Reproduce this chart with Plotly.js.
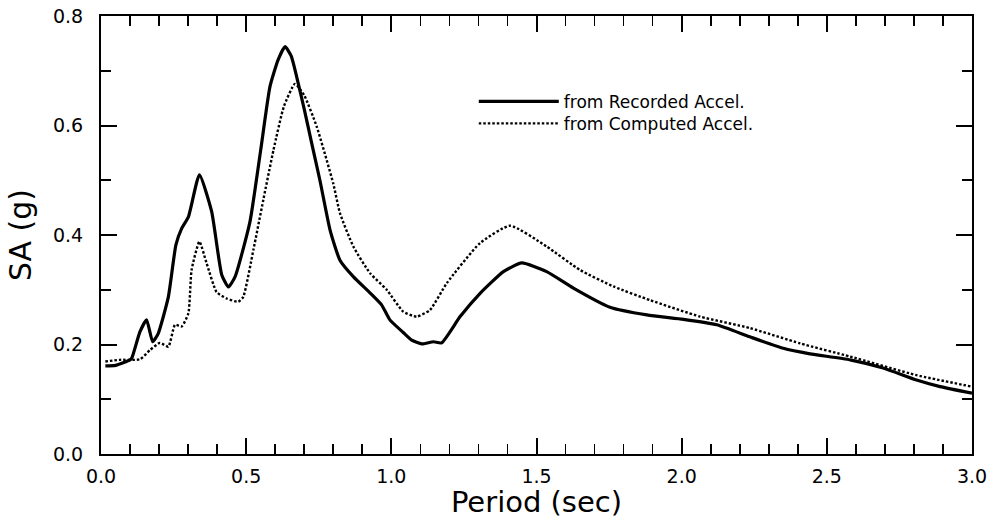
<!DOCTYPE html>
<html>
<head>
<meta charset="utf-8">
<script src="https://cdn.plot.ly/plotly-3.0.1.min.js"></script>
<style>html,body{margin:0;padding:0;background:#fff;}#chart{width:990px;height:519px;}</style>
</head>
<body>
<div id="chart"></div>
<script>
// Period (sec) and SA (g) for the response spectrum from the recorded acceleration
const recordedPeriod = [0.015,0.05,0.1,0.106,0.134,0.157,0.178,0.197,0.232,0.258,0.278,0.301,0.339,0.381,0.416,0.439,0.462,0.513,0.55,0.582,0.61,0.634,0.655,0.674,0.70,0.726,0.754,0.789,0.823,0.869,0.927,0.967,0.995,1.041,1.07,1.105,1.145,1.173,1.237,1.305,1.386,1.449,1.535,1.627,1.753,1.880,2.006,2.121,2.235,2.350,2.442,2.580,2.694,2.809,2.890,3.0];
const recordedSA     = [0.161,0.162,0.172,0.175,0.223,0.245,0.205,0.220,0.287,0.382,0.412,0.433,0.510,0.443,0.327,0.305,0.324,0.424,0.555,0.671,0.720,0.744,0.727,0.689,0.630,0.567,0.500,0.409,0.354,0.324,0.294,0.272,0.245,0.222,0.208,0.201,0.205,0.203,0.251,0.293,0.333,0.349,0.333,0.303,0.268,0.254,0.246,0.236,0.214,0.193,0.183,0.172,0.157,0.135,0.123,0.111];

// Period (sec) and SA (g) for the response spectrum from the computed acceleration
const computedPeriod = [0.015,0.065,0.134,0.169,0.203,0.232,0.255,0.278,0.301,0.312,0.339,0.364,0.398,0.433,0.473,0.490,0.525,0.559,0.594,0.63,0.668,0.70,0.743,0.80,0.823,0.869,0.927,0.984,1.041,1.087,1.133,1.191,1.305,1.409,1.535,1.650,1.765,1.891,2.063,2.235,2.408,2.580,2.809,3.0];
const computedSA     = [0.169,0.172,0.173,0.190,0.203,0.196,0.236,0.233,0.257,0.336,0.388,0.348,0.296,0.284,0.278,0.287,0.373,0.464,0.555,0.635,0.676,0.655,0.598,0.494,0.440,0.379,0.330,0.300,0.260,0.251,0.263,0.312,0.385,0.417,0.379,0.336,0.306,0.281,0.251,0.230,0.202,0.178,0.144,0.123];

const seriesNames = ["from Recorded Accel.", "from Computed Accel."];
const xTitle = "Period (sec)";
const yTitle = "SA (g)";

const FONT = "DejaVu Sans, Verdana, sans-serif";

const traces = [
  {x: recordedPeriod, y: recordedSA, name: seriesNames[0], type: "scatter", mode: "lines",
   legend: "legend", line: {color: "#000", width: 3.2, shape: "spline", smoothing: 0.5}},
  {x: computedPeriod, y: computedSA, name: seriesNames[1], type: "scatter", mode: "lines",
   legend: "legend2", line: {color: "#000", width: 2.4, dash: "2.5px,2px", shape: "spline", smoothing: 0.5}}
];

const axisCommon = {
  showgrid: false, zeroline: false, showline: true, linecolor: "#000", linewidth: 2,
  mirror: "ticks", ticks: "inside", tickcolor: "#000", tickwidth: 2, ticklen: 16,
  tickformat: ".1f", tickfont: {family: FONT, size: 19, color: "#000"}
};

const legendCommon = {xanchor: "left", yanchor: "top", bgcolor: "rgba(0,0,0,0)",
  font: {family: FONT, size: 17, color: "#000"}, itemwidth: 80};

const layout = {
  width: 990, height: 519,
  margin: {l: 101, r: 18, t: 16, b: 65},
  paper_bgcolor: "#fff", plot_bgcolor: "#fff",
  font: {family: FONT, color: "#000"},
  showlegend: true,
  legend: Object.assign({}, legendCommon, {x: 0.428, y: 0.845}),
  legend2: Object.assign({}, legendCommon, {x: 0.428, y: 0.795}),
  xaxis: Object.assign({}, axisCommon, {
    range: [0, 3], dtick: 0.5, tick0: 0, ticklabelstandoff: 4,
    minor: {dtick: 0.1, ticks: "inside", ticklen: 10, tickwidth: 1.6, tickcolor: "#000"},
    title: {text: xTitle, font: {family: FONT, size: 29, color: "#000"}, standoff: 14}
  }),
  yaxis: Object.assign({}, axisCommon, {
    range: [0, 0.8], dtick: 0.2, tick0: 0, ticklabelstandoff: 12,
    minor: {dtick: 0.1, ticks: "inside", ticklen: 10, tickwidth: 1.6, tickcolor: "#000"},
    title: {text: yTitle, font: {family: FONT, size: 30, color: "#000"}, standoff: 12}
  })
};

Plotly.newPlot("chart", traces, layout, {displayModeBar: false, staticPlot: true});
</script>
</body>
</html>
